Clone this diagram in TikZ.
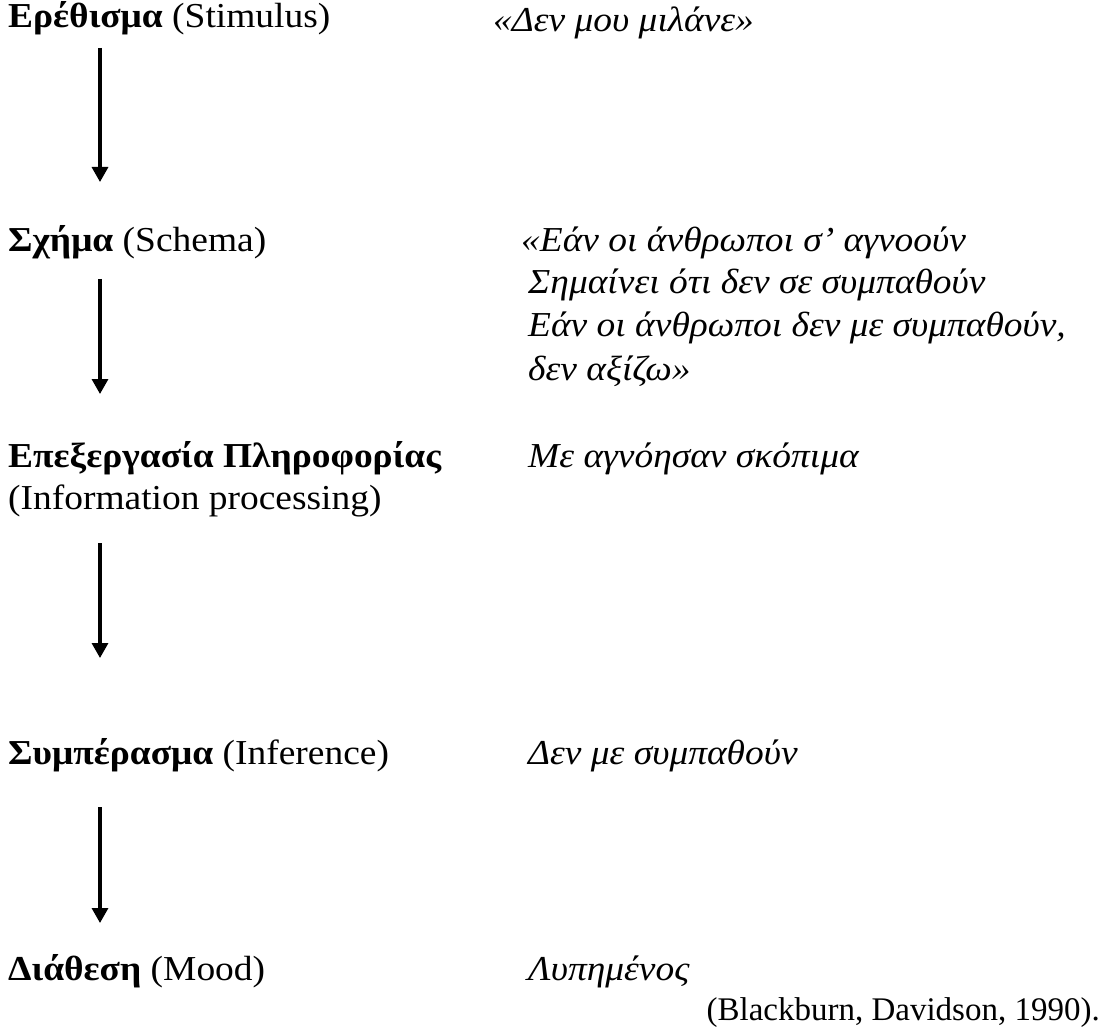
\documentclass[tikz,border=0pt]{standalone}
\usepackage{graphicx}
\usepackage{fontspec}
\setmainfont{Liberation Serif}
\usetikzlibrary{arrows.meta}
\newcommand{\sx}[1]{\scalebox{1.07}[1]{#1}}
\begin{document}
\begin{tikzpicture}[x=1pt,y=-1pt,
  lbl/.style={anchor=base west,inner sep=0pt,font=\fontsize{35}{40}\selectfont},
  ex/.style={anchor=base west,inner sep=0pt,font=\fontsize{35}{40}\selectfont\itshape},
  citestyle/.style={anchor=base east,inner sep=0pt,font=\fontsize{33}{38}\selectfont},
  arr/.style={line width=3.2pt,-{Triangle[width=16pt,length=15pt]}}]
\useasboundingbox[fill=white] (0,0) rectangle (1103,1032);
% left column
\node[lbl] (stim) at (8,28) {\sx{\textbf{Ερέθισμα} (Stimulus)}};
\node[lbl] (schema) at (8,252) {\sx{\textbf{Σχήμα} (Schema)}};
\node[lbl] (proc) at (8,467) {\sx{\textbf{Επεξεργασία Πληροφορίας}}};
\node[lbl] (proc2) at (8,509) {\sx{(Information processing)}};
\node[lbl] (infer) at (8,764) {\sx{\textbf{Συμπέρασμα} (Inference)}};
\node[lbl] (mood) at (8,980) {\sx{\textbf{Διάθεση} (Mood)}};
% right column
\node[ex] (r1) at (493,32) {\sx{«Δεν μου μιλάνε»}};
\node[ex] (r2a) at (521,252) {\sx{«Εάν οι άνθρωποι σ’ αγνοούν}};
\node[ex] (r2b) at (528,294) {\sx{Σημαίνει ότι δεν σε συμπαθούν}};
\node[ex] (r2c) at (528,337) {\sx{Εάν οι άνθρωποι δεν με συμπαθούν,}};
\node[ex] (r2d) at (528,380) {\sx{δεν αξίζω»}};
\node[ex] (r3) at (528,467) {\sx{Με αγνόησαν σκόπιμα}};
\node[ex] (r4) at (528,764) {\sx{Δεν με συμπαθούν}};
\node[ex] (r5) at (528,980) {\sx{Λυπημένος}};
\node[citestyle] (cite) at (1100,1020) {(Blackburn, Davidson, 1990).};
% arrows
\coordinate (a1s) at (100,48);  \coordinate (a1e) at (100,182);
\coordinate (a2s) at (100,279); \coordinate (a2e) at (100,394);
\coordinate (a3s) at (100,543); \coordinate (a3e) at (100,658);
\coordinate (a4s) at (100,807); \coordinate (a4e) at (100,923);
\draw[arr] (a1s) -- (a1e);
\draw[arr] (a2s) -- (a2e);
\draw[arr] (a3s) -- (a3e);
\draw[arr] (a4s) -- (a4e);
\end{tikzpicture}
\end{document}
